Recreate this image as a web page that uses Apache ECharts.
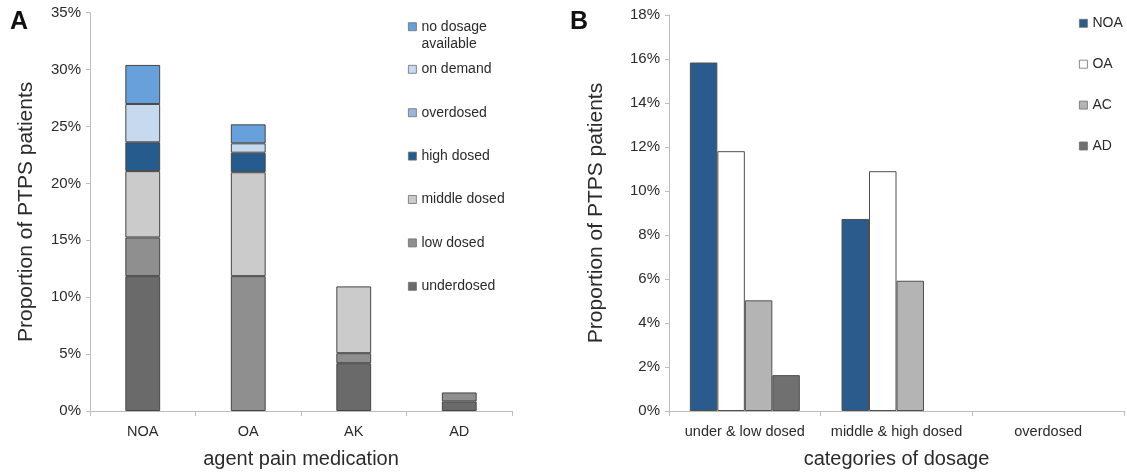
<!DOCTYPE html>
<html>
<head>
<meta charset="utf-8">
<title>PTPS pain medication dosage</title>
<script src="https://cdn.jsdelivr.net/npm/echarts@6/dist/echarts.min.js"></script>
<style>
  html, body { margin: 0; padding: 0; background: #fff; }
  #chart { width: 1127px; height: 474px; }
</style>
</head>
<body>
<div id="chart"></div>
<script>
// Panel A: dosage composition per agent group (percent of PTPS patients)
const agentCategories = ['NOA', 'OA', 'AK', 'AD'];
const underdosed   = [11.85, 0,     4.2,  0.84];
const lowDosed     = [3.4,   11.85, 0.88, 0.79];
const middleDosed  = [5.83,  9.13,  5.87, 0];
const highDosed    = [2.53,  1.72,  0,    0];
const overdosed    = [0,     0,     0,    0];
const onDemand     = [3.37,  0.82,  0,    0];
const noDosage     = [3.43,  1.67,  0,    0];

// Panel B: agent groups per dosage category (percent of PTPS patients)
const dosageCategories = ['under & low dosed', 'middle & high dosed', 'overdosed'];
const groupNOA = [15.84, 8.73, 0];
const groupOA  = [11.81, 10.9, 0];
const groupAC  = [5.03,  5.92, 0];
const groupAD  = [1.63,  0,    0];

const ticksA = { min: 0, max: 35, interval: 5 };
const ticksB = { min: 0, max: 18, interval: 2 };

const FONT = '"Liberation Sans", Arial, Helvetica, sans-serif';
const AXIS_GRAY = '#bdbdbd';
const TEXT = '#2b2b2b';

// empty segments are left out so no zero-height outline is drawn
const clean = arr => arr.map(v => (v === 0 ? null : v));

const stackA = [
  { name: 'underdosed',          data: underdosed,  color: '#6a6a6a' },
  { name: 'low dosed',           data: lowDosed,    color: '#8f8f8f' },
  { name: 'middle dosed',        data: middleDosed, color: '#cbcbcb' },
  { name: 'high dosed',          data: highDosed,   color: '#265b8e' },
  { name: 'overdosed',           data: overdosed,   color: '#9bb6da' },
  { name: 'on demand',           data: onDemand,    color: '#c6d9ef' },
  { name: 'no dosage available', data: noDosage,    color: '#67a0db' }
];

const groupsB = [
  { name: 'NOA', data: groupNOA, color: '#2a5b8c' },
  { name: 'OA',  data: groupOA,  color: '#ffffff' },
  { name: 'AC',  data: groupAC,  color: '#b4b4b4' },
  { name: 'AD',  data: groupAD,  color: '#707070' }
];

const seriesA = stackA.map(s => ({
  name: s.name,
  type: 'bar',
  stack: 'dose',
  xAxisIndex: 0,
  yAxisIndex: 0,
  barWidth: '33%',
  data: clean(s.data),
  itemStyle: { color: s.color, borderColor: '#454545', borderWidth: 1 },
  emphasis: { disabled: true }
}));

const seriesB = groupsB.map(s => ({
  name: s.name,
  type: 'bar',
  xAxisIndex: 1,
  yAxisIndex: 1,
  barGap: '0%',
  barCategoryGap: '27.5%',
  data: clean(s.data),
  itemStyle: { color: s.color, borderColor: '#4f4f4f', borderWidth: 1 },
  emphasis: { disabled: true }
}));

function categoryAxis(gridIndex, cats, title, gap) {
  return {
    type: 'category',
    gridIndex,
    data: cats,
    name: title,
    nameLocation: 'middle',
    nameGap: gap,
    nameTextStyle: { fontFamily: FONT, fontSize: 20, color: TEXT },
    axisLine: { lineStyle: { color: AXIS_GRAY, width: 1 } },
    axisTick: { show: true, length: 5, lineStyle: { color: AXIS_GRAY } },
    axisLabel: { interval: 0, fontFamily: FONT, fontSize: 14.5, color: TEXT, margin: 13 },
    splitLine: { show: false }
  };
}

function valueAxis(gridIndex, ticks, gap) {
  return {
    type: 'value',
    gridIndex,
    min: ticks.min,
    max: ticks.max,
    interval: ticks.interval,
    name: 'Proportion of PTPS patients',
    nameLocation: 'middle',
    nameGap: gap,
    nameTextStyle: { fontFamily: FONT, fontSize: 21, color: TEXT },
    axisLine: { show: true, lineStyle: { color: AXIS_GRAY, width: 1 } },
    axisTick: { show: true, length: 4, lineStyle: { color: AXIS_GRAY } },
    axisLabel: { fontFamily: FONT, fontSize: 15, color: TEXT, margin: 9, formatter: '{value}%' },
    splitLine: { show: false }
  };
}

const legendText = { fontFamily: FONT, fontSize: 14, color: TEXT, lineHeight: 16 };
const legendIcon = { borderColor: '#6e6e6e', borderWidth: 0.8 };

const option = {
  animation: false,
  backgroundColor: '#ffffff',
  title: [
    { text: 'A', left: 10, top: 10, padding: 0,
      textStyle: { fontFamily: FONT, fontSize: 25, fontWeight: 'bold', color: '#111' } },
    { text: 'B', left: 570, top: 10, padding: 0,
      textStyle: { fontFamily: FONT, fontSize: 25, fontWeight: 'bold', color: '#111' } }
  ],
  grid: [
    { left: 90, right: 615, top: 12.7, bottom: 61.7, containLabel: false },
    { left: 669, right: 3, top: 15, bottom: 61.7, containLabel: false }
  ],
  xAxis: [
    categoryAxis(0, agentCategories, 'agent pain medication', 38),
    categoryAxis(1, dosageCategories, 'categories of dosage', 38)
  ],
  yAxis: [
    valueAxis(0, ticksA, 53),
    valueAxis(1, ticksB, 62)
  ],
  legend: [
    {
      // two-line entry; a leading blank line keeps the marker beside the first line
      data: ['no dosage available'],
      orient: 'vertical', left: 408, top: 1.2, padding: 0,
      icon: 'rect', itemWidth: 8, itemHeight: 8, itemStyle: legendIcon,
      formatter: () => ' \nno dosage\navailable',
      textStyle: Object.assign({}, legendText, { lineHeight: 17 }),
      selectedMode: false
    },
    {
      data: ['on demand', 'overdosed', 'high dosed', 'middle dosed', 'low dosed', 'underdosed'],
      orient: 'vertical', left: 408, top: 61.3, padding: 0, itemGap: 27.4,
      icon: 'rect', itemWidth: 8, itemHeight: 8, itemStyle: legendIcon,
      textStyle: legendText,
      selectedMode: false
    },
    {
      data: ['NOA', 'OA', 'AC', 'AD'],
      orient: 'vertical', left: 1079, top: 15.3, padding: 0, itemGap: 24.9,
      icon: 'rect', itemWidth: 8, itemHeight: 8, itemStyle: legendIcon,
      textStyle: legendText,
      selectedMode: false
    }
  ],
  series: seriesA.concat(seriesB)
};

const chart = echarts.init(document.getElementById('chart'), null, { renderer: 'canvas' });
chart.setOption(option);
</script>
</body>
</html>
